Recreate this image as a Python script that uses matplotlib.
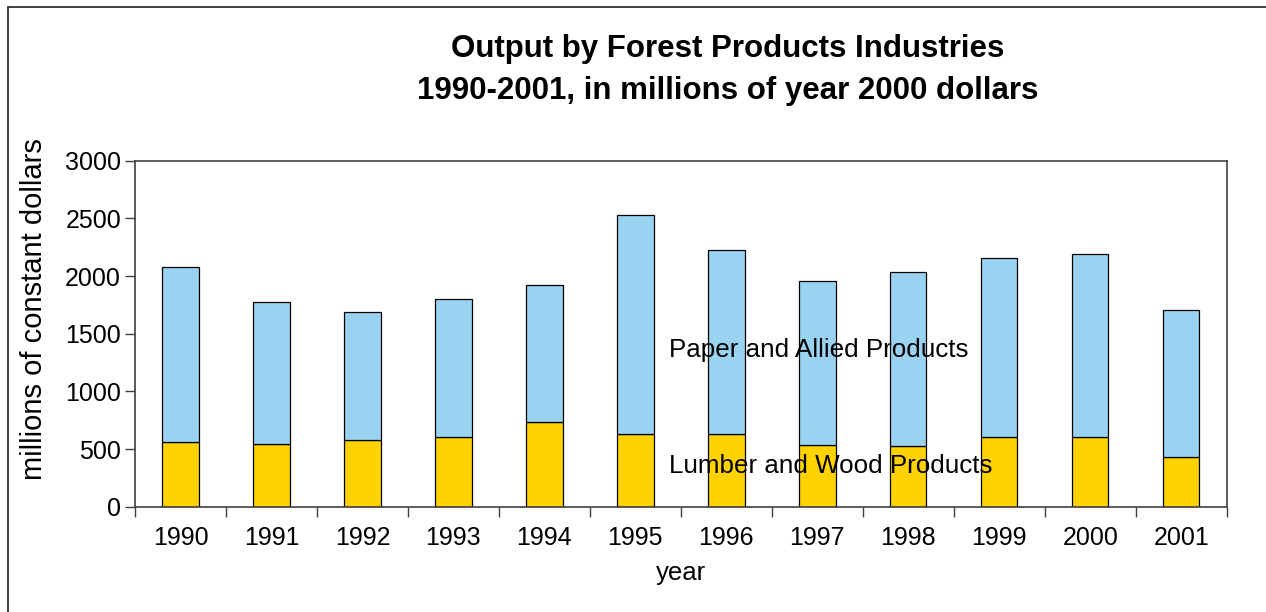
import matplotlib
matplotlib.use("Agg")
import matplotlib.pyplot as plt
from matplotlib.patches import Rectangle
import numpy as np

years = ["1990", "1991", "1992", "1993", "1994", "1995", "1996", "1997", "1998", "1999", "2000", "2001"]
lumber = [564, 544, 575, 604, 734, 633, 633, 532, 524, 604, 604, 434]
total = [2076, 1772, 1691, 1801, 1922, 2526, 2226, 1954, 2032, 2154, 2194, 1703]
paper = [t - l for t, l in zip(total, lumber)]
yticks = [0, 500, 1000, 1500, 2000, 2500, 3000]

plt.rcParams['font.family'] = ['Liberation Sans', 'DejaVu Sans']

W, H = 1266, 612
fig = plt.figure(figsize=(W / 100, H / 100), dpi=100)
ax = fig.add_axes([135 / W, 1 - 506.7 / H, (1226.7 - 135) / W, (506.7 - 160.7) / H])

x = np.arange(len(years))
blue = "#99D3F1"
yellow = "#FFD200"
ax.bar(x, lumber, width=0.4, color=yellow, edgecolor="black", linewidth=0.9)
ax.bar(x, paper, width=0.4, bottom=lumber, color=blue, edgecolor="black", linewidth=0.9)

fs = 18
ax.set_xlim(-0.5, len(years) - 0.5)
ax.set_ylim(0, 3000)
ax.set_yticks(yticks)
ax.set_yticklabels([str(v) for v in yticks], fontsize=fs)
ax.set_xticks(x)
ax.set_xticklabels(years, fontsize=fs)
ax.tick_params(axis="x", length=0, pad=14)
ax.set_xticks(np.arange(len(years) + 1) - 0.5, minor=True)
ax.tick_params(axis="x", which="minor", length=7, width=1, direction="out", color="#404040")
ax.tick_params(axis="y", length=7, width=1, direction="out", color="#404040", pad=3)
for s in ax.spines.values():
    s.set_color("#404040")
    s.set_linewidth(1.2)

ax.set_xlabel("year", fontsize=18.5, labelpad=8)
ax.set_ylabel("millions of constant dollars", fontsize=21)
ax.yaxis.set_label_coords(-0.0797, 0.57)

ax.text(5.37, 1359, "Paper and Allied Products", fontsize=18.7, va="center", ha="left")
ax.text(5.37, 353, "Lumber and Wood Products", fontsize=18.7, va="center", ha="left")

fig.text(728 / W, 1 - 70 / H, "Output by Forest Products Industries\n1990-2001, in millions of year 2000 dollars",
         fontsize=22.5, fontweight="bold", ha="center", va="center", linespacing=1.55)

fig.patches.append(Rectangle((8 / W, -0.1), 1.2, 1 - 7 / H + 0.1, transform=fig.transFigure,
                             fill=False, edgecolor="#202020", linewidth=1.2))

fig.savefig("out.png", dpi=100)
